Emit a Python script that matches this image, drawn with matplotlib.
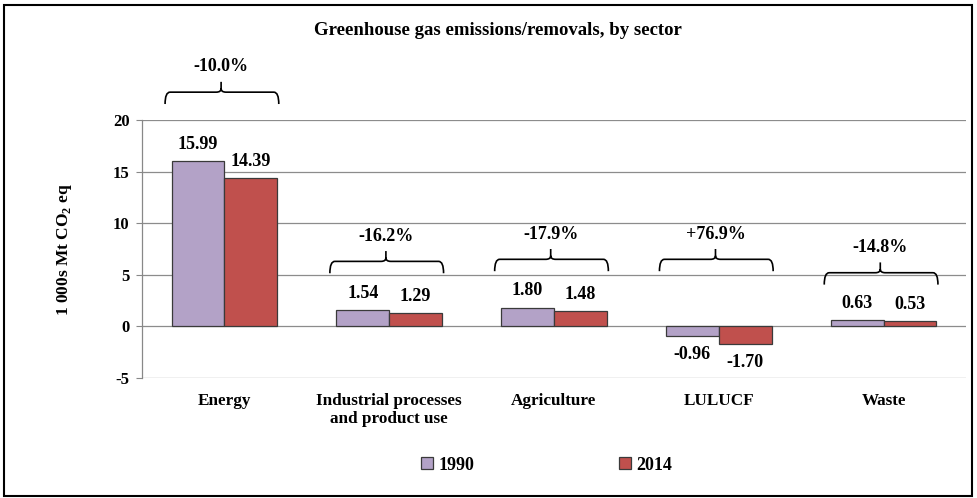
import matplotlib
matplotlib.use("Agg")
import matplotlib.pyplot as plt
from matplotlib.path import Path
from matplotlib.patches import PathPatch
import numpy as np

categories = ["Energy", "Industrial processes\nand product use", "Agriculture", "LULUCF", "Waste"]
values_1990 = [15.99, 1.54, 1.80, -0.96, 0.63]
values_2014 = [14.39, 1.29, 1.48, -1.70, 0.53]
series_names = ["1990", "2014"]
change_labels = ["-10.0%", "-16.2%", "-17.9%", "+76.9%", "-14.8%"]
yticks = [-5, 0, 5, 10, 15, 20]

plt.rcParams['font.family'] = ['Liberation Serif', 'DejaVu Serif']
plt.rcParams['font.weight'] = 'bold'
plt.rcParams['mathtext.fontset'] = 'custom'
plt.rcParams['mathtext.bf'] = 'Liberation Serif:bold'
plt.rcParams['mathtext.rm'] = 'Liberation Serif:bold'

fig = plt.figure(figsize=(9.78, 4.98), dpi=100)
ax = fig.add_axes([0.1452, 0.241, 0.8425, 0.518])

c1990 = "#B3A2C7"
c2014 = "#C0504D"
edge = "#3a3a3a"
w = 0.32
x = np.arange(len(categories))
b1 = ax.bar(x - w/2, values_1990, w, color=c1990, edgecolor=edge, linewidth=0.9, zorder=3, label=series_names[0])
b2 = ax.bar(x + w/2, values_2014, w, color=c2014, edgecolor=edge, linewidth=0.9, zorder=3, label=series_names[1])

ax.set_xlim(-0.5, len(categories) - 0.5)
ax.set_ylim(-5, 20)
ax.set_yticks(yticks)
ax.set_yticklabels([str(t) for t in yticks], fontsize=12, fontweight='bold')
ax.set_xticks(x)
ax.set_xticklabels(categories, fontsize=12.3, fontweight='bold', linespacing=1.15)
ax.tick_params(axis='x', length=0, pad=11)
ax.tick_params(axis='y', length=4, color='#888888', pad=5)
ax.grid(axis='y', color='#8c8c8c', linewidth=0.9, zorder=0)
for s in ['top', 'right', 'bottom']:
    ax.spines[s].set_visible(False)
ax.spines['left'].set_color('#888888')
ax.spines['left'].set_linewidth(0.9)

# value labels
for bars, vals in ((b1, values_1990), (b2, values_2014)):
    for rect, v in zip(bars, vals):
        cx = rect.get_x() + rect.get_width() / 2
        if v >= 0:
            ax.annotate(f"{v:.2f}", (cx, v), xytext=(0, 6), textcoords='offset points',
                        ha='center', va='bottom', fontsize=13, fontweight='bold')
        else:
            ax.annotate(f"{v:.2f}", (cx, v), xytext=(0, -7), textcoords='offset points',
                        ha='center', va='top', fontsize=13, fontweight='bold')

# curly brackets with percentage change
bracket_y = [22.7, 6.3, 6.5, 6.5, 5.2]
leg_len, tip_len = 1.15, 1.0
rx, ry = 0.03, 0.35
for i, (lab, by) in enumerate(zip(change_labels, bracket_y)):
    xl, xr = i - 0.36, i + 0.33
    xm = i - 0.02
    verts = [
        (xl, by - leg_len), (xl, by), (xl + rx, by),
        (xm - rx, by), (xm, by), (xm, by + ry),
        (xm, by + tip_len),
        (xm, by + ry), (xm, by), (xm + rx, by),
        (xr - rx, by), (xr, by), (xr, by - leg_len),
    ]
    codes = [Path.MOVETO, Path.CURVE3, Path.CURVE3,
             Path.LINETO, Path.CURVE3, Path.CURVE3,
             Path.LINETO,
             Path.MOVETO, Path.CURVE3, Path.CURVE3,
             Path.LINETO, Path.CURVE3, Path.CURVE3]
    ax.add_patch(PathPatch(Path(verts, codes), fill=False, edgecolor='black', lw=1.2,
                           clip_on=False, zorder=4))
    ax.text(xm, by + 2.45, lab, ha='center', va='center', fontsize=13, fontweight='bold')

ax.set_ylabel(r"1 000s Mt CO$_\mathbf{2}$ eq", fontsize=12.5, fontweight='bold', labelpad=28)

fig.text(0.509, 0.938, "Greenhouse gas emissions/removals, by sector", ha='center', va='center',
         fontsize=13.5, fontweight='bold')

leg = fig.legend(handles=[b1, b2], labels=series_names, loc='center', bbox_to_anchor=(0.559, 0.066),
                 ncol=2, frameon=False, prop={'weight': 'bold', 'size': 13},
                 handlelength=0.65, handleheight=0.65, handletextpad=0.3, columnspacing=8.05)

fig.add_artist(plt.Rectangle((0.004, 0.004), 0.99, 0.986, transform=fig.transFigure,
                             fill=False, edgecolor='black', linewidth=1.5))

fig.savefig("out.png", dpi=100)
